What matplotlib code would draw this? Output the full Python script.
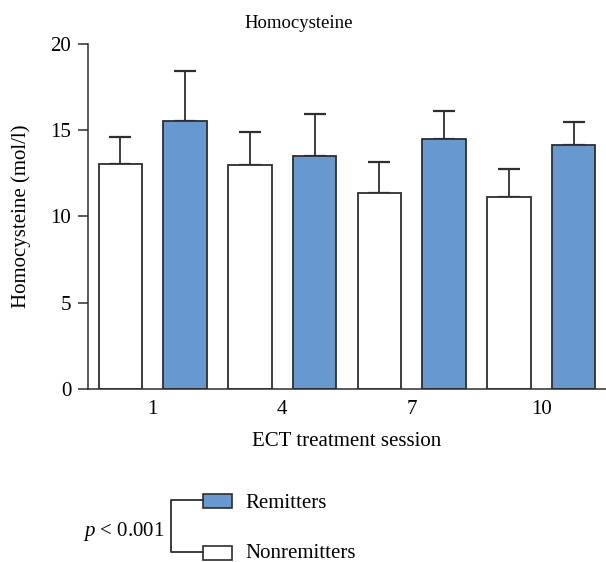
import numpy as np
import matplotlib
matplotlib.use("Agg")
import matplotlib.pyplot as plt
from matplotlib.patches import Rectangle
from matplotlib.lines import Line2D

plt.rcParams['font.family'] = ['Liberation Serif', 'DejaVu Serif']
plt.rcParams['mathtext.fontset'] = 'custom'
plt.rcParams['mathtext.it'] = 'Liberation Serif:italic'
plt.rcParams['mathtext.rm'] = 'Liberation Serif'

# session labels and group means / upper SD
sessions = ['1', '4', '7', '10']
nonremitters = [13.05, 12.95, 11.35, 11.1]
nonremitters_err = [1.55, 1.93, 1.79, 1.67]
remitters = [15.5, 13.47, 14.47, 14.16]
remitters_err = [2.92, 2.43, 1.65, 1.3]

blue = '#6798d0'
edge = '#2e2e2e'

fig = plt.figure(figsize=(6.06, 5.62), dpi=100)
ax = fig.add_axes([88/606, 1 - 389/562, 1 - 88/606, (389 - 43.7)/562])

n = len(sessions)
pos_non = np.arange(n) * 2
pos_rem = np.arange(n) * 2 + 1
width = 0.67

ax.bar(pos_non, nonremitters, width, color='white', edgecolor=edge, linewidth=1.3, zorder=2)
ax.bar(pos_rem, remitters, width, color=blue, edgecolor=edge, linewidth=1.3, zorder=2)
ax.errorbar(pos_non, nonremitters, yerr=[np.zeros(n), nonremitters_err], fmt='none',
            ecolor=edge, elinewidth=1.3, capsize=8, capthick=1.6, zorder=1)
ax.errorbar(pos_rem, remitters, yerr=[np.zeros(n), remitters_err], fmt='none',
            ecolor=edge, elinewidth=1.3, capsize=8, capthick=1.6, zorder=1)

ax.set_xlim(-0.5, 2 * n - 0.5)
ax.set_ylim(0, 20)
ax.set_yticks([0, 5, 10, 15, 20])
ax.set_xticks(pos_non + 0.5)
ax.set_xticklabels(sessions)
ax.tick_params(axis='y', length=7, width=1.1, color=edge, labelsize=15, pad=5)
ax.tick_params(axis='x', length=0, labelsize=15, pad=8)
for s in ['top', 'right']:
    ax.spines[s].set_visible(False)
for s in ['left', 'bottom']:
    ax.spines[s].set_linewidth(1.1)
    ax.spines[s].set_color(edge)
ax.spines['bottom'].set_clip_on(False)

ax.set_xlabel('ECT treatment session', fontsize=15, labelpad=9)
ax.set_ylabel('Homocysteine (mol/l)', fontsize=15, labelpad=14)

# legend with bracket
W, H = 606, 562
def fx(x): return x / W
def fy(y): return 1 - y / H

fig.text(fx(299), fy(23), 'Homocysteine', fontsize=13.5, ha='center', va='center')

fig.add_artist(Rectangle((fx(203), fy(508)), 29/W, 14/H, facecolor=blue,
                         edgecolor=edge, linewidth=1.2, transform=fig.transFigure))
fig.add_artist(Rectangle((fx(203), fy(560)), 29/W, 14/H, facecolor='white',
                         edgecolor=edge, linewidth=1.2, transform=fig.transFigure))
fig.add_artist(Line2D([fx(203), fx(171), fx(171), fx(203)],
                      [fy(500), fy(500), fy(552), fy(552)],
                      color=edge, linewidth=1.3, transform=fig.transFigure))
fig.text(fx(245), fy(508), 'Remitters', fontsize=15, va='baseline', ha='left')
fig.text(fx(245), fy(558), 'Nonremitters', fontsize=15, va='baseline', ha='left')
fig.text(fx(165), fy(536), r'$p$ < 0.001', fontsize=15, va='baseline', ha='right')

fig.savefig('out.png', dpi=100)
